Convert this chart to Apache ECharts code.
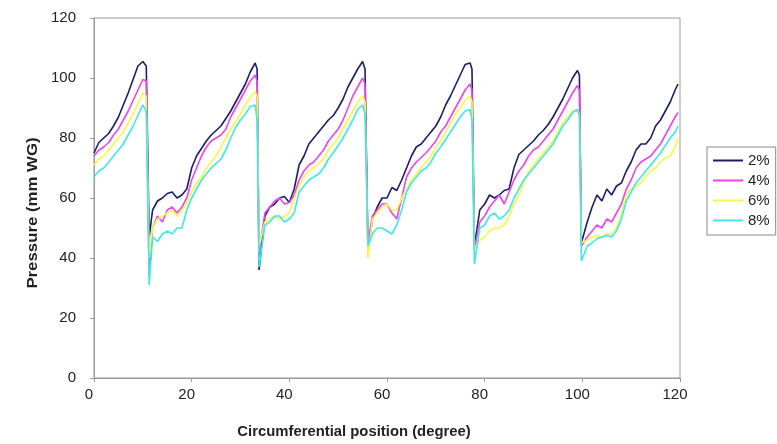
<!DOCTYPE html>
<html>
<head>
<meta charset="utf-8">
<script src="https://cdn.jsdelivr.net/npm/echarts@6/dist/echarts.min.js"></script>
<style>
html,body{margin:0;padding:0;background:#fff;}
#c{width:777px;height:444px;}
</style>
</head>
<body>
<div id="c"></div>
<script>
// circumferential positions (degree)
const xs = [
  0,1,2,3,4,5,6,7,8,9,10,10.7,11.3,
  12,13,14,15,16,17,18,19,20,21,22,23,24,25,26,27,28,29,30,31,32,33,33.4,33.8,
  35,36,37,38,39,40,41,42,43,44,45,46,47,48,49,50,51,52,53,54,55,55.5,56.1,
  57,58,59,60,61,62,63,64,65,66,67,68,69,70,71,72,73,74,75,76,77,77.4,77.9,
  79,80,81,82,83,84,85,86,87,88,89,90,91,92,93,94,95,96,97,98,99,99.4,99.8,
  101,102,103,104,105,106,107,108,109,110,111,112,113,114,115,116,117,118,119,119.6
];
const p2 = [
  75,78.5,80,81.5,84,87,91,95,99.5,104,105.5,104,47,
  56,59,60,61.5,62,60,61,63,70,74,76.5,79,81,82.5,84,86.5,89,92,95,98,102,105,103,36,
  54,57,58,60,60.5,58.5,63,71,74,78,80,82,84,86,87.5,90,93,97,100,103,105.5,103,42,
  53,57,60,60,63.5,62.5,66,70,74,77,78,80,82,84,87,91,94,97.5,101,104.5,105,103,44,
  56,58,61,60,61,62.5,63,70,74.5,76,77.5,79,81,82.5,84.5,87,90,93,96.5,100,102.5,101,45,
  52,57,61,59,63,61,64,65,69,72,76,78,78,80,84,86,89,92,96,98
];
const p4 = [
  74,76,77,78.5,81,83,86,89,92.5,96,99.5,99,34,
  50,54,52,56,57,55,57,60,66,70,74,77,79,80,81,83,87,90,93,96,99,101,99,42,
  55,57,59,60,58,58.5,61,66,69,71,72,74,76,79,81,83,86,90,94,97,100,98,45,
  54,56,58,58,55,53,60,67,70,72,73.5,75,77,79,82,84,87,90,93,96,98,96,43,
  52,54,57,59,61,58,62,66,69,71,74,76,77,79,81,83,86,89,92,95,97.5,96,44,
  47,49,51,50,53,52,55,58,63,66,70,72,73,74,76,78,81,84,87,88.5
];
const p6 = [
  71,73,74,76,78,80,82,85,88,91.5,95,94,40,
  50,53,54,55,56,54,56,58,62,65,67,70,72,74,77,80,83,85.5,88,91,93.5,95.5,94,44,
  52,53,54,53,54,55,60,64,67,69,70,71.5,73,76,78,80,83,86,89,92,94,92,40,
  53,55,57,58,56,56,60,63,66,68,70,72,74,77,79,82,85,88,90,92.5,94,92,43,
  46,47,49,50,50,51,54,58,61,65,69,71,73,75,77,79,82,85,87,89,89.5,88,45,
  46,47,47.5,47,48,48,50,55,61,63,64,65,67,69,70,72,73.5,74,77,80
];
const p8 = [
  67,69,70,72,74,76,78,81,84,87.5,91,89,31,
  47,45.5,48,49,48,50,50,56,60,63,66,68,70,71.5,73,76,80,83.5,86,88,90.5,91,86,37,
  51,52,54,54,52,53,55,62,64,66,67,68,70,73,75,77.5,80,83,86,89.5,91,88,44,
  48,50,50,49,48,51,56,62,65,67,69,70,72,75,77,79.5,82,84.5,87,89,89.5,86,38,
  50,51,54,55,53,54,56,60,63,66,68,70,72,74,76,78,81,84,86,88.5,89.5,87,39,
  44,45,46.5,47,47.5,47,49,53,59,62,65,67,69,71,73,75,77.5,80,82,84
];
const seriesNames = ['2%','4%','6%','8%'];
const seriesValues = [p2,p4,p6,p8];
const colors = ['#1c1c6b','#ee44ee','#f7f74a','#3ee8e8'];
const xTicks = [0,20,40,60,80,100,120];
const yTicks = [0,20,40,60,80,100,120];

const chart = echarts.init(document.getElementById('c'));
const font = '"Liberation Sans", Arial, sans-serif';
chart.setOption({
  animation:false,
  backgroundColor:'#fff',
  grid:{left:94,right:97,top:18,bottom:66,show:true,borderColor:'#9a9a9a',borderWidth:1,backgroundColor:'transparent'},
  xAxis:{type:'value',min:xTicks[0],max:xTicks[xTicks.length-1],interval:20,
    axisLine:{lineStyle:{color:'#9a9a9a'}},
    axisTick:{show:true,length:4,lineStyle:{color:'#9a9a9a'}},
    axisLabel:{color:'#222',fontSize:15,fontFamily:font,margin:9,padding:[0,10,0,0]},
    splitLine:{show:false}},
  yAxis:{type:'value',min:yTicks[0],max:yTicks[yTicks.length-1],interval:20,
    axisLine:{show:true,lineStyle:{color:'#9a9a9a'}},
    axisTick:{show:true,length:4,lineStyle:{color:'#9a9a9a'}},
    axisLabel:{color:'#222',fontSize:15,fontFamily:font,margin:18},
    splitLine:{show:false}},
  legend:{orient:'vertical',left:707,top:147,data:seriesNames,
    icon:'rect',itemWidth:30,itemHeight:2,itemGap:5,
    borderColor:'#8a8a8a',borderWidth:1,padding:[6,6,7,6],
    textStyle:{fontSize:15,color:'#222',fontFamily:font}},
  graphic:[
    {type:'text',x:354,y:432,scaleX:1.06,style:{text:'Circumferential position (degree)',textAlign:'center',textVerticalAlign:'middle',font:'bold 14px '+font,fill:'#222'}},
    {type:'text',x:33,y:213,rotation:Math.PI/2,scaleX:1.2,style:{text:'Pressure (mm WG)',textAlign:'center',textVerticalAlign:'middle',font:'bold 14px '+font,fill:'#222'}}
  ],
  series:seriesNames.map((n,k)=>({
    name:n,type:'line',showSymbol:false,symbol:'none',
    lineStyle:{width:1.6,color:colors[k]},itemStyle:{color:colors[k]},
    data:xs.map((x,i)=>[x,seriesValues[k][i]])
  }))
});
</script>
</body>
</html>
